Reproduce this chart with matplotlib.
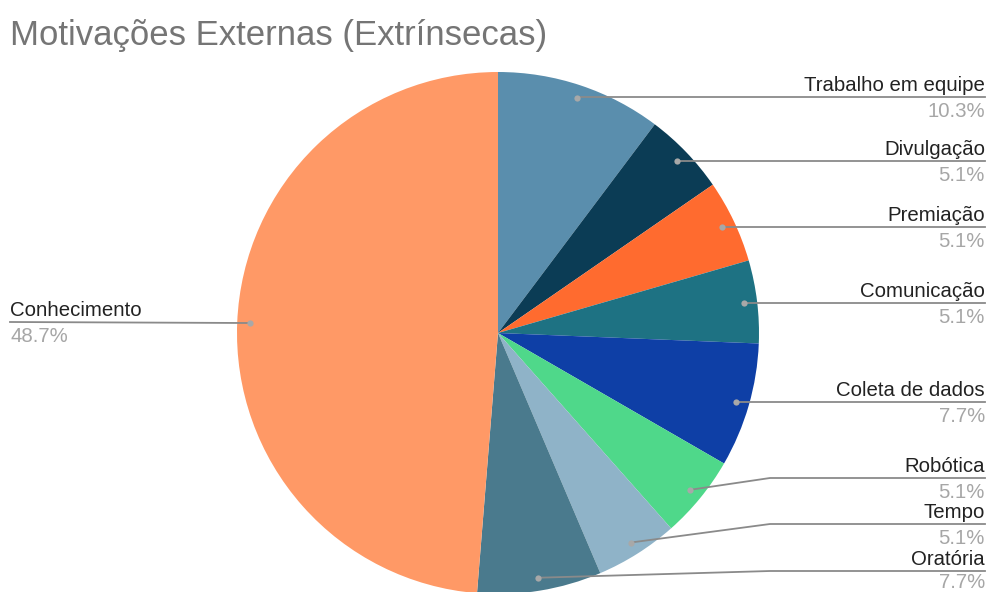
import numpy as np
import matplotlib.pyplot as plt

# dados
categorias = ['Trabalho em equipe', 'Divulgação', 'Premiação', 'Comunicação',
              'Coleta de dados', 'Robótica', 'Tempo', 'Oratória', 'Conhecimento']
respostas = [4, 2, 2, 2, 3, 2, 2, 3, 19]
cores = ['#5a8ead', '#0b3c55', '#ff6b2f', '#1e7283', '#0e3fa6',
         '#4fd88a', '#8fb3c8', '#4a7a8d', '#ff9966']

W, H = 988, 592
plt.rcParams['font.family'] = ['Liberation Sans', 'DejaVu Sans']

fig = plt.figure(figsize=(W / 100, H / 100), dpi=100)
ax = fig.add_axes([0, 0, 1, 1])

cx, cy, R = 498, H - 333, 261
wedges, _ = ax.pie(respostas, colors=cores, startangle=90, counterclock=False,
                   center=(cx, cy), radius=R, wedgeprops={'linewidth': 0})
ax.set_xlim(0, W)
ax.set_ylim(0, H)
ax.set_aspect('equal')
ax.axis('off')

pct = np.array(respostas) / sum(respostas) * 100

# posicao dos rotulos (linha de chamada, em px a partir do topo)
label_y = [97, 161, 227, 303, 402, 478, 524, 571, 322]
x_dir = 985
x_esq = 10
cotovelo = 770

for w, nome, p, ly in zip(wedges, categorias, pct, label_y):
    ang = np.deg2rad((w.theta1 + w.theta2) / 2)
    dx = cx + 0.95 * R * np.cos(ang)
    dy = cy + 0.95 * R * np.sin(ang)
    yl = H - ly
    if np.cos(ang) >= 0:
        xs = [dx, max(dx, cotovelo) if abs(yl - dy) > 4 else dx, x_dir]
        ax.plot(xs, [dy, yl, yl], color='#8a8a8a', lw=1.3, zorder=3)
        xt, ha = x_dir, 'right'
    else:
        ax.plot([dx, x_esq], [dy, yl], color='#8a8a8a', lw=1.3, zorder=3)
        xt, ha = x_esq, 'left'
    ax.plot(dx, dy, 'o', color='#a8a8a8', ms=4.5, mec='none', zorder=4)
    ax.text(xt, yl + 6, nome, ha=ha, va='baseline', fontsize=14.7, color='#222222')
    # o ultimo rotulo fica colado na borda inferior, como no original
    ax.text(xt, max(yl - 5, 19), f'{p:.1f}%', ha=ha, va='top', fontsize=14.7,
            color='#a6a6a6')

ax.text(10, H - 36, 'Motivações Externas (Extrínsecas)', ha='left', va='center',
        fontsize=25, color='#757575')

fig.savefig('out.png', dpi=100)
